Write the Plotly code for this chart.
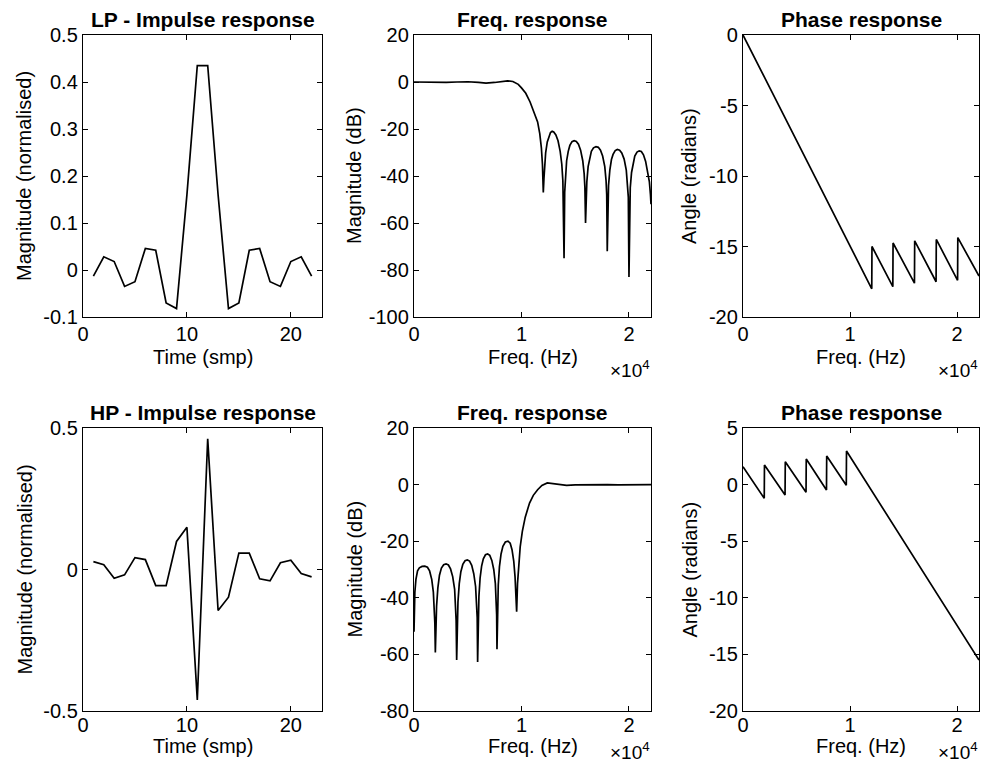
import plotly.graph_objects as go

W, H = 985, 767
FONT = "Liberation Sans, Arial, Helvetica, sans-serif"

# ---------------- data ----------------
smp = list(range(1, 23))
lp_imp = [-0.013, 0.028, 0.018, -0.035, -0.025, 0.046, 0.042, -0.07, -0.082, 0.16, 0.435,
          0.435, 0.16, -0.082, -0.07, 0.042, 0.046, -0.025, -0.035, 0.018, 0.028, -0.013]
hp_imp = [0.028, 0.017, -0.031, -0.019, 0.042, 0.035, -0.057, -0.057, 0.099, 0.149, -0.461,
          0.462, -0.145, -0.098, 0.058, 0.058, -0.033, -0.040, 0.024, 0.033, -0.014, -0.026]

lp_freq = [0, 1000, 2000, 3000, 4000, 5000, 6000, 6700, 7500, 8200, 8700, 9200, 9700, 10000,
           10400, 10800, 11200, 11500, 11700, 11850, 11950, 12030,
           12090, 12150, 12250, 12400, 12550, 12700, 12850, 13000, 13200, 13400, 13600, 13750, 13850, 13960,
           14020, 14080, 14200, 14350, 14500, 14700, 14900, 15100, 15300, 15500, 15700, 15830, 15900, 15960,
           16020, 16080, 16200, 16350, 16500, 16700, 16930, 17150, 17350, 17550, 17750, 17870, 17930, 17980,
           18040, 18100, 18220, 18370, 18520, 18720, 18920, 19130, 19330, 19550, 19750, 19870, 19940, 20000,
           20060, 20120, 20240, 20390, 20540, 20750, 20950, 21150, 21350, 21550, 21750, 21900, 22000, 22050]
lp_mag = [0, -0.1, -0.3, -0.2, 0.0, 0.1, -0.2, -0.5, -0.2, 0.3, 0.5, 0.2, -1.0, -2.5,
          -4.8, -8.5, -13, -17, -22, -28, -35, -47,
          -41, -35, -30, -25.5, -23, -21.5, -21, -21.3, -22.5, -25, -29.5, -35, -42, -75,
          -47, -40, -33.5, -29.5, -27, -25.4, -25, -25.3, -26.5, -29, -33.5, -39, -45, -60,
          -49, -42.5, -36, -32, -29.5, -28, -27.5, -27.8, -29, -31.5, -36, -42, -48, -72,
          -50, -44, -37.5, -33, -30.8, -29.2, -28.7, -29, -30.2, -32.8, -37.5, -43.5, -49, -83,
          -51, -45, -38.5, -34, -31.5, -29.8, -29.3, -29.6, -31, -33.8, -38, -42.5, -48, -52]

hp_freq = [0, 30, 80, 180, 330, 500, 750, 1000, 1250, 1450, 1650, 1800, 1880, 1940, 1985,
           2040, 2100, 2220, 2370, 2550, 2760, 2980, 3200, 3400, 3600, 3780, 3870, 3920, 3970,
           4030, 4090, 4210, 4360, 4540, 4750, 4960, 5170, 5370, 5560, 5730, 5830, 5880, 5920,
           5980, 6040, 6150, 6290, 6450, 6650, 6850, 7050, 7240, 7420, 7570, 7650, 7690, 7720,
           7780, 7840, 7950, 8100, 8270, 8500, 8740, 8950, 9120, 9280, 9400, 9480, 9550,
           9630, 9730, 9880, 10080, 10350, 10750, 11100, 11500, 11900, 12400, 12900, 13500, 14200,
           15000, 16000, 17000, 18000, 19000, 20000, 21000, 22050]
hp_mag = [-52, -44, -38, -33.5, -30.5, -29.4, -28.9, -28.8, -29.2, -30.5, -33.5, -38, -43, -49, -59.3,
          -49, -43, -36.5, -32, -29.5, -28.3, -28, -28.4, -29.8, -32.5, -37, -42.5, -48, -62,
          -48, -41.5, -35, -30.8, -28.2, -26.9, -26.6, -27, -28.5, -31.5, -36, -41.5, -47, -62.7,
          -46, -39.5, -33, -28.8, -26.2, -24.8, -24.5, -25, -26.8, -30, -35, -40.5, -46, -58.2,
          -42, -35.5, -29, -24.5, -21.8, -20.3, -20, -20.7, -23, -27, -32.5, -38, -44.9,
          -35, -28, -22, -16.5, -11.5, -6.5, -3.8, -1.8, -0.3, 0.6, 0.4, -0.1, -0.3,
          -0.1, 0.0, 0.15, 0.0, -0.1, 0.0, 0.05, 0.0]

lp_ph_freq = [0, 12030, 12050, 14000, 14020, 16020, 16040, 18040, 18060, 20050, 20070, 22050]
lp_phase = [0, -18.0, -15.0, -17.85, -14.75, -17.6, -14.6, -17.5, -14.5, -17.4, -14.37, -17.1]
hp_ph_freq = [0, 1985, 2005, 3930, 3950, 5890, 5910, 7800, 7820, 9650, 9670, 22050]
hp_phase = [1.57, -1.21, 1.73, -0.92, 2.02, -0.68, 2.26, -0.48, 2.53, -0.06, 2.97, -15.5]

# tick labels
imp_xticks = [0, 10, 20]
imp_xtext = ["0", "10", "20"]
freq_xticks = [0, 10000, 20000]
freq_xtext = ["0", "1", "2"]
lp_imp_yticks = [-0.1, 0, 0.1, 0.2, 0.3, 0.4, 0.5]
lp_imp_ytext = ["-0.1", "0", "0.1", "0.2", "0.3", "0.4", "0.5"]
hp_imp_yticks = [-0.5, 0, 0.5]
hp_imp_ytext = ["-0.5", "0", "0.5"]
lp_mag_yticks = [-100, -80, -60, -40, -20, 0, 20]
lp_mag_ytext = ["-100", "-80", "-60", "-40", "-20", "0", "20"]
hp_mag_yticks = [-80, -60, -40, -20, 0, 20]
hp_mag_ytext = ["-80", "-60", "-40", "-20", "0", "20"]
lp_ph_yticks = [-20, -15, -10, -5, 0]
lp_ph_ytext = ["-20", "-15", "-10", "-5", "0"]
hp_ph_yticks = [-20, -15, -10, -5, 0, 5]
hp_ph_ytext = ["-20", "-15", "-10", "-5", "0", "5"]

titles = ["LP - Impulse response", "Freq. response", "Phase response",
          "HP - Impulse response", "Freq. response", "Phase response"]
xlabels = ["Time (smp)", "Freq. (Hz)", "Freq. (Hz)"] * 2
ylabels = ["Magnitude (normalised)", "Magnitude (dB)", "Angle (radians)"] * 2

# ---------------- layout geometry (pixels) ----------------
cols = [(83, 322), (414, 651), (743, 979)]
rows = [(35, 317), (428, 711)]


def px(x):
    return x / W


def py(y):
    return 1 - y / H


fig = go.Figure()

panels = [
    (smp, lp_imp, [0, 23], [-0.1, 0.5], imp_xticks, imp_xtext, lp_imp_yticks, lp_imp_ytext),
    (lp_freq, lp_mag, [0, 22050], [-100, 20], freq_xticks, freq_xtext, lp_mag_yticks, lp_mag_ytext),
    (lp_ph_freq, lp_phase, [0, 22050], [-20, 0], freq_xticks, freq_xtext, lp_ph_yticks, lp_ph_ytext),
    (smp, hp_imp, [0, 23], [-0.5, 0.5], imp_xticks, imp_xtext, hp_imp_yticks, hp_imp_ytext),
    (hp_freq, hp_mag, [0, 22050], [-80, 20], freq_xticks, freq_xtext, hp_mag_yticks, hp_mag_ytext),
    (hp_ph_freq, hp_phase, [0, 22050], [-20, 5], freq_xticks, freq_xtext, hp_ph_yticks, hp_ph_ytext),
]

annotations = []
layout_axes = {}
for i, (xs, ys, xr, yr, xtv, xtt, ytv, ytt) in enumerate(panels):
    r, c = divmod(i, 3)
    k = "" if i == 0 else str(i + 1)
    fig.add_trace(go.Scatter(x=xs, y=ys, mode="lines", xaxis="x" + k, yaxis="y" + k,
                             line=dict(color="black", width=1.7), showlegend=False,
                             hoverinfo="x+y"))
    x0, x1 = cols[c]
    y0, y1 = rows[r]
    common = dict(showline=True, linecolor="black", linewidth=1.4, mirror="ticks",
                  ticks="inside", ticklen=5, tickwidth=1.3, tickcolor="black",
                  showgrid=False, zeroline=False, automargin=False,
                  tickfont=dict(family=FONT, size=20, color="black"))
    layout_axes["xaxis" + k] = dict(domain=[px(x0), px(x1)], range=xr, anchor="y" + k,
                                    tickmode="array", tickvals=xtv, ticktext=xtt,
                                    ticklabelstandoff=(-1 if r == 0 else -4), **common)
    layout_axes["yaxis" + k] = dict(domain=[py(y1), py(y0)], range=yr, anchor="x" + k,
                                    tickmode="array", tickvals=ytv, ticktext=ytt, **common)
    cx = (x0 + x1) / 2
    # title
    annotations.append(dict(text="<b>" + titles[i] + "</b>", x=px(cx), y=py(y0 - 16),
                            xref="paper", yref="paper", xanchor="center", yanchor="middle",
                            showarrow=False, font=dict(family=FONT, size=21, color="black")))
    # x label
    annotations.append(dict(text=xlabels[i], x=px(cx), y=py(y1 + 40 if r == 0 else y1 + 35),
                            xref="paper", yref="paper", xanchor="center", yanchor="middle",
                            showarrow=False, font=dict(family=FONT, size=20, color="black")))
    # y label
    ylx = [24, 354, 689][c]
    annotations.append(dict(text=ylabels[i], x=px(ylx), y=py((y0 + y1) / 2), textangle=-90,
                            xref="paper", yref="paper", xanchor="center", yanchor="middle",
                            showarrow=False, font=dict(family=FONT, size=20, color="black")))
    # exponent marker
    if c > 0:
        annotations.append(dict(text="\u00d710<sup>4</sup>", x=px(x1 + 1),
                                y=py(383 if r == 0 else 765),
                                xref="paper", yref="paper", xanchor="right", yanchor="bottom",
                                showarrow=False, font=dict(family=FONT, size=19, color="black")))

fig.update_layout(width=W, height=H, margin=dict(l=0, r=0, t=0, b=0),
                  paper_bgcolor="white", plot_bgcolor="white",
                  font=dict(family=FONT, color="black"),
                  annotations=annotations, **layout_axes)

fig.write_html("out.html")
